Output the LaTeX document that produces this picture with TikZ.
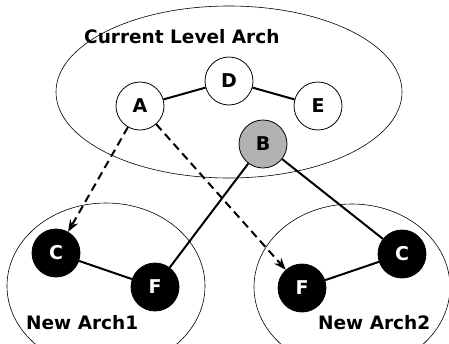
\documentclass[tikz,border=0pt]{standalone}
\usepackage{fontspec}
\setmainfont{DejaVu Sans}
\usetikzlibrary{arrows.meta}
\begin{document}
\begin{tikzpicture}[x=1pt,y=-1pt,
  vertex/.style={circle,draw=black,line width=0.8pt,minimum size=48pt,inner sep=0pt,
    font=\fontsize{19}{19}\selectfont\bfseries},
  plain/.style={vertex,fill=white},
  shaded/.style={vertex,fill=black!30},
  solidnode/.style={vertex,fill=black,text=white},
  group/.style={draw=black,line width=0.6pt},
  link/.style={line width=2pt},
  move/.style={line width=2pt,dash pattern=on 8pt off 5pt,-{Stealth[length=12pt,width=9pt]}},
  caption/.style={font=\fontsize{18.5}{18.5}\selectfont\bfseries,inner sep=0pt}]
\useasboundingbox (0,0) rectangle (449,343);
% grouping ellipses
\draw[group] (229,92) ellipse [x radius=173, y radius=86];
\begin{scope}
\clip (0,0) rectangle (449,343);
\draw[group] (106,286) ellipse [x radius=99, y radius=83];
\draw[group] (352,287) ellipse [x radius=98, y radius=83];
\end{scope}
% current level
\node[plain] (A) at (140,106) {A};
\node[plain] (D) at (229,81) {D};
\node[plain] (E) at (318,106) {E};
\node[shaded] (B) at (263,144) {B};
% new architectures
\node[solidnode] (C1) at (56,253) {C};
\node[solidnode] (F1) at (155,287) {F};
\node[solidnode] (F2) at (302,288) {F};
\node[solidnode] (C2) at (402,254) {C};
% captions
\node[caption,anchor=west] (t0) at (84,37) {Current Level Arch};
\node[caption,anchor=west] (t1) at (26,323) {New Arch1};
\node[caption,anchor=west] (t2) at (318,323) {New Arch2};
% connectors
\draw[link] (A) -- (D);
\draw[link] (D) -- (E);
\draw[link] (B) -- (F1);
\draw[link] (B) -- (C2);
\draw[link] (C1) -- (F1);
\draw[link] (F2) -- (C2);
\draw[move] (A) -- (C1);
\draw[move] (A) -- (F2);
\end{tikzpicture}
\end{document}
